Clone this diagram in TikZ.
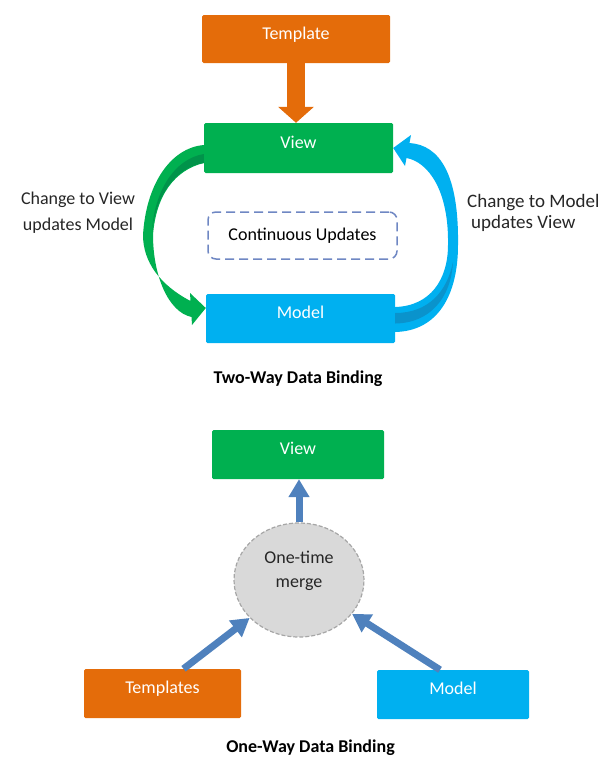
\documentclass[tikz,border=0pt]{standalone}
\usepackage{fontspec}
\setmainfont{Carlito}
\usetikzlibrary{arrows.meta,shapes.geometric}
\definecolor{corange}{HTML}{E46C0A}
\definecolor{cgreen}{HTML}{00B050}
\definecolor{cgreendk}{HTML}{00934A}
\definecolor{cblue}{HTML}{00B0F0}
\definecolor{cbluedk}{HTML}{0A93CC}
\definecolor{cdash}{HTML}{6F87C3}
\definecolor{csteel}{HTML}{4F81BD}
\definecolor{cgrayfill}{HTML}{D9D9D9}
\definecolor{cgrayline}{HTML}{A6A6A6}
\definecolor{ctext}{HTML}{262626}
\begin{document}
\begin{tikzpicture}[x=1pt,y=-1pt,
  font=\fontsize{18}{22}\selectfont,
  box/.style={rectangle, rounded corners=1.5pt, inner sep=0pt, text=white,
    text height=11pt, text depth=11pt},
  contbox/.style={rectangle, draw=cdash, line width=1.5pt, dash pattern=on 9pt off 5pt,
    rounded corners=8pt, inner sep=0pt, text=black, text height=13pt, text depth=4pt},
  mergenode/.style={ellipse, draw=cgrayline, line width=1.2pt, dash pattern=on 4pt off 2pt,
    fill=cgrayfill, inner sep=0pt, minimum width=130pt, minimum height=114pt,
    align=center, text=ctext, text depth=22pt, font=\fontsize{18}{24}\selectfont},
  lbl/.style={text=ctext, inner sep=0pt},
  title/.style={text=black, inner sep=0pt, font=\fontsize{18}{22}\selectfont\bfseries},
  tarrow/.style={draw=corange, line width=18pt, -{Triangle[width=35pt,length=16pt]}},
  barrow/.style={draw=csteel, line width=7pt, -{Triangle[width=20pt,length=18pt]}}
]
\useasboundingbox (0,0) rectangle (606,779);

% ---------- Two-way binding ----------
\node[box, fill=corange, minimum width=188pt, minimum height=48pt] (template) at (296,39) {Template};
\node[box, fill=cgreen, minimum width=189pt, minimum height=50pt] (view1) at (298.5,148) {View};
\node[contbox, minimum width=189pt, minimum height=47pt] (cont) at (302.5,235.5) {Continuous Updates};
\node[box, fill=cblue, minimum width=189pt, minimum height=49pt] (model1) at (300.5,318.5) {Model};

% green ribbon: View -> Model
\fill[cgreen] ([yshift=3pt]view1.west)
  .. controls (170,148) and (146,185) .. (143,235)
  .. controls (143,262) and (160,285) .. (190.5,301)
  -- (190,293) -- ([yshift=10.5pt]model1.west) -- (192,325) -- (191.5,317)
  .. controls (168,312) and (153,275) .. (153,235)
  .. controls (156,195) and (175,170) .. ([yshift=-15pt]view1.west) -- cycle;
\fill[cgreendk] ([yshift=-15pt]view1.west)
  .. controls (175,167) and (155,198) .. (152,232)
  .. controls (154,192) and (174,159) .. ([yshift=-6pt]view1.west) -- cycle;

% blue ribbon: Model -> View
\fill[cblue] ([yshift=-13.5pt]model1.east)
  .. controls (438,331) and (458,295) .. (458,245)
  .. controls (459,175) and (440,145) .. (409.5,143)
  -- (411,135) -- (view1.east) -- (405,166) -- (406.5,158)
  .. controls (428,162) and (449,190) .. (448,245)
  .. controls (448,280) and (430,306) .. ([yshift=11.5pt]model1.east) -- cycle;
\fill[cbluedk] ([yshift=5.5pt]model1.east)
  .. controls (428,313) and (447,292) .. (453,262)
  .. controls (451,298) and (430,323) .. ([yshift=-5pt]model1.east) -- cycle;

\draw[tarrow] (template.south) -- (template.south |- view1.north);

\node[lbl, align=center, anchor=base] (lblL) at (78,230) {Change to View\\[4pt]updates Model};
\node[lbl, align=left, anchor=base west, font=\fontsize{19}{21}\selectfont] (lblR) at (467,228) {Change to Model\\\hspace*{4pt}updates View};
\node[title, anchor=base] (title1) at (298,383) {Two-Way Data Binding};

% ---------- One-way binding ----------
\node[box, fill=cgreen, minimum width=172pt, minimum height=49pt] (view2) at (298,454.5) {View};
\node[mergenode] (merge) at (299,580) {One-time\\merge};
\node[box, fill=corange, minimum width=157pt, minimum height=49pt] (templates) at (162.5,693.5) {Templates};
\node[box, fill=cblue, minimum width=152pt, minimum height=49pt] (model2) at (453,694.5) {Model};

\draw[barrow] (merge.north) -- (merge.north |- view2.south);
\draw[barrow] ([xshift=21pt]templates.north) -- (merge);
\draw[barrow] ([xshift=-13pt]model2.north) -- (merge);

\node[title, anchor=base] (title2) at (310.5,752) {One-Way Data Binding};
\end{tikzpicture}
\end{document}
